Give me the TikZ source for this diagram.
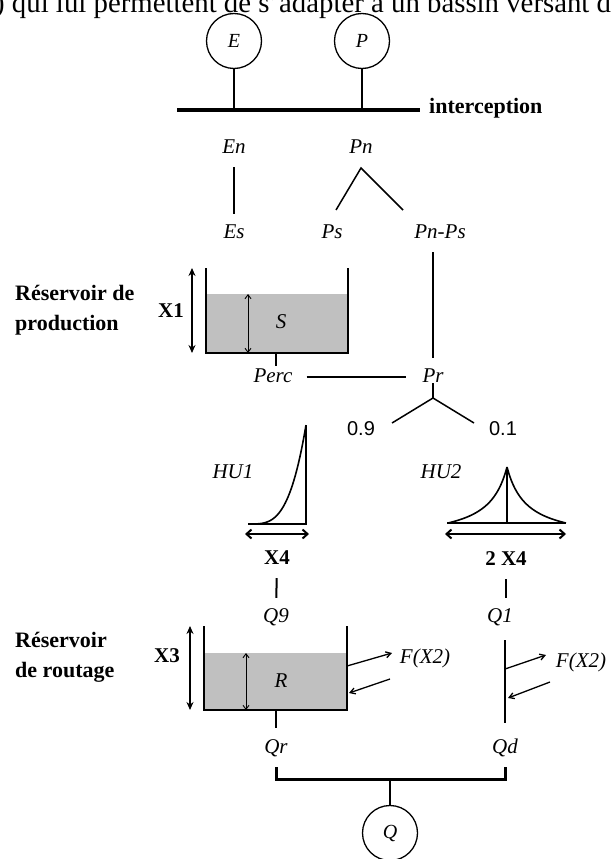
\documentclass[tikz,border=0pt]{standalone}
\usepackage{fontspec}
\setmainfont{Liberation Serif}
\newfontfamily\digitfont{Liberation Sans}
\usetikzlibrary{positioning, arrows.meta}
\definecolor{tankgray}{RGB}{192,192,192}

\begin{document}
\begin{tikzpicture}[
    x=1pt, y=-1pt,
    lbl/.style={font=\fontsize{21}{24}\selectfont\itshape, text height=14pt, text depth=4pt, inner sep=2pt},
    param/.style={font=\fontsize{21}{24}\selectfont\bfseries, text height=14pt, text depth=4pt, inner sep=2pt},
    ratio/.style={font=\digitfont\fontsize{20}{24}\selectfont, text height=14pt, text depth=4pt, inner sep=2pt},
    sidetext/.style={font=\fontsize{22}{30}\selectfont\bfseries, align=left, anchor=west, inner sep=0pt},
    store/.style={circle, draw, line width=1.3pt, minimum size=55pt, inner sep=0pt, font=\fontsize{20}{24}\selectfont\itshape},
    link/.style={line width=2pt, shorten <=8pt, shorten >=8pt},
    wall/.style={line width=2.5pt},
    gauge/.style={<->, >={Stealth[length=8pt, width=7pt]}, line width=2.5pt},
    stock/.style={<->, >={Straight Barb[length=4pt, width=6pt]}, line width=0.9pt},
    spread/.style={<->, >={Straight Barb[length=5pt, width=9pt]}, line width=2pt},
    leak/.style={->, >={Straight Barb[length=5pt, width=6pt]}, line width=1.3pt},
    uh/.style={line width=1.6pt}
]
    \useasboundingbox (0,0) rectangle (612,859);
    \clip (0,0) rectangle (612,859);

    % cut line of the page text above
    \node[anchor=base west, inner sep=0pt, font=\fontsize{28.8}{30}\selectfont] (intro) at (-5,12.7) {) qui lui permettent de s'adapter à un bassin versant d};

    % inputs and interception
    \node[store] (E) at (234,41) {E};
    \node[store] (P) at (362,41) {P};
    \coordinate (barL) at (177,110);
    \coordinate (barR) at (420,110);
    \draw[line width=2pt] (E.south) -- (E.south |- barL);
    \draw[line width=2pt] (P.south) -- (P.south |- barL);
    \draw[line width=4pt] (barL) -- (barR);
    \node[sidetext, anchor=base west] (interc) at (429,113) {interception};

    \node[lbl] (En) at (234,148) {En};
    \node[lbl] (Pn) at (361,148) {Pn};
    \node[lbl] (Es) at (234,233) {Es};
    \node[lbl] (Ps) at (332,233) {Ps};
    \node[lbl] (PnPs) at (440,233) {Pn-Ps};
    \draw[link] (En) -- (Es);
    \coordinate[below=20pt of Pn.center] (pnfork);
    \coordinate (psend) at (336,210);
    \coordinate (pnpsend) at (403,210);
    \draw[line width=1.5pt] (psend) -- (pnfork) -- (pnpsend);

    % production store
    \fill[tankgray] (206,294) rectangle (348,353);
    \draw[wall] (206,268) -- (206,353) -- (348,353) -- (348,268);
    \draw[gauge] (192,268) -- (192,353);
    \draw[stock] (248,294) -- (248,353);
    \node[param] (X1) at (171,312) {X1};
    \node[lbl] (S) at (281,323) {S};
    \node[sidetext] (resprod) at (15,310) {Réservoir de\\production};

    \coordinate (percout) at (276,353);
    \node[lbl] (Perc) at (273,377) {Perc};
    \node[lbl] (Pr) at (433,377) {Pr};
    \draw[line width=2pt] (percout) -- (percout |- Perc.north);
    \draw[link, shorten <=12pt, shorten >=14pt] (Perc) -- (Pr);
    \draw[link] (Pr |- PnPs.south) -- (Pr.north);
    \coordinate[below=21pt of Pr.center] (prfork);
    \draw[line width=2pt, shorten <=6pt] (Pr.center) -- (prfork);
    \coordinate (to09) at (392,423);
    \coordinate (to01) at (474,423);
    \draw[line width=1.5pt] (to09) -- (prfork) -- (to01);
    \node[ratio] (r09) at (361,430) {0.9};
    \node[ratio] (r01) at (503,430) {0.1};

    % unit hydrographs
    \node[lbl] (HU1) at (233,473) {HU1};
    \node[lbl] (HU2) at (441,473) {HU2};
    \draw[uh] plot[domain=0:1, samples=40] ({248+58*\x}, {524-99*\x*\x*\x*sqrt(\x)});
    \draw[line width=2.5pt] (306,425) -- (306,524) -- (248,524);
    \draw[uh] plot[domain=0:1, samples=40] ({507-59*\x}, {523-56*(1/(1+3*\x)-0.25)/0.75});
    \draw[uh] plot[domain=0:1, samples=40] ({507+59*\x}, {523-56*(1/(1+3*\x)-0.25)/0.75});
    \draw[line width=2pt] (507,467) -- (507,523);
    \draw[line width=2pt] (447,523) -- (566,523);
    \draw[spread] (245,534) -- (309,534);
    \draw[spread] (445,534) -- (566,534);

    \node[param] (X4) at (277,559) {X4};
    \node[param] (X4two) at (506,560) {2 X4};
    \node[lbl] (Q9) at (276,617) {Q9};
    \node[lbl] (Q1) at (500,617) {Q1};
    \draw[link] (X4) -- (Q9);
    \draw[link] (X4two) -- (X4two |- Q1.north);

    % routing store
    \fill[tankgray] (204,653) rectangle (347,710);
    \draw[wall] (204,626) -- (204,710) -- (347,710) -- (347,626);
    \draw[gauge] (190,626) -- (190,710);
    \draw[stock] (246,653) -- (246,710);
    \node[param] (X3) at (167,657) {X3};
    \node[lbl] (R) at (281,682) {R};
    \node[sidetext] (resrout) at (15,657.5) {Réservoir\\de routage};

    % exchanges F(X2)
    \node[lbl] (fxA) at (425,658) {F(X2)};
    \node[lbl] (fxB) at (581,662) {F(X2)};
    \coordinate (outA0) at (347,666);
    \coordinate (outA1) at (392,653);
    \coordinate (inA0) at (390,679);
    \coordinate (inA1) at (349,693);
    \coordinate (outB0) at (505,669);
    \coordinate (outB1) at (546,655);
    \coordinate (inB0) at (550,682);
    \coordinate (inB1) at (508,698);
    \draw[leak] (outA0) -- (outA1);
    \draw[leak] (inA0) -- (inA1);
    \draw[leak] (outB0) -- (outB1);
    \draw[leak] (inB0) -- (inB1);

    % outlets
    \node[lbl] (Qr) at (276,748) {Qr};
    \node[lbl] (Qd) at (505,748) {Qd};
    \coordinate (rbot) at (276,710);
    \draw[line width=2pt, shorten >=9pt] (rbot) -- (Qr.north);
    \draw[link, shorten <=12pt, shorten >=14pt] (Qd |- Q1.south) -- (Qd.north);
    \coordinate (qjoin) at (390,779);
    \node[store] (Q) at (390,833) {Q};
    \draw[line width=3pt] ([yshift=-8pt]Qr.south) |- (qjoin) -| ([yshift=-8pt]Qd.south);
    \draw[line width=2.5pt] (qjoin) -- (Q.north);
\end{tikzpicture}
\end{document}
